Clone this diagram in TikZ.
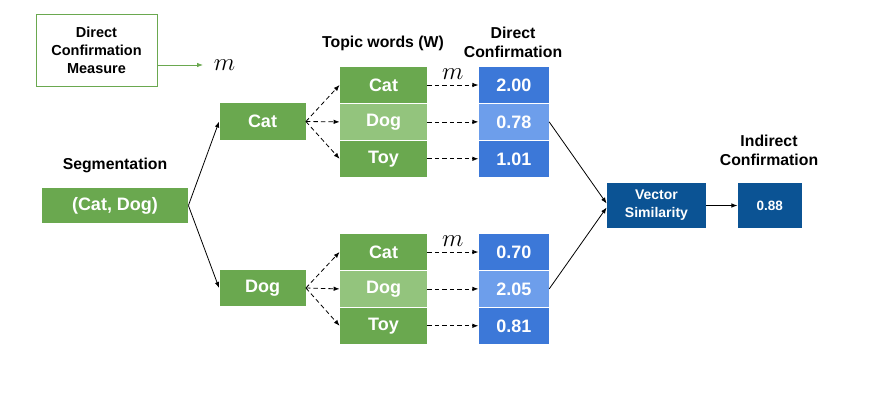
\documentclass[tikz,border=0pt]{standalone}
\usepackage{fontspec}
\setmainfont{Liberation Sans}
\usetikzlibrary{arrows.meta,positioning}
\definecolor{boxgreen}{HTML}{6AA84F}
\definecolor{lightgreen}{HTML}{93C47D}
\definecolor{boxblue}{HTML}{3C78D8}
\definecolor{lightblue}{HTML}{6D9EEB}
\definecolor{darkblue}{HTML}{0B5394}
\tikzset{
  >={Latex[length=6pt,width=4.5pt]},
  box/.style={inner sep=0pt, align=center, text=white, font=\bfseries\fontsize{18}{21}\selectfont},
  seg/.style={box, fill=boxgreen, minimum width=146pt, minimum height=35pt},
  word/.style={box, fill=boxgreen, minimum width=87pt, minimum height=36.5pt},
  wordlt/.style={word, fill=lightgreen},
  val/.style={box, fill=boxblue, minimum width=70pt, minimum height=36.5pt},
  vallt/.style={val, fill=lightblue},
  sim/.style={box, fill=darkblue, minimum height=45pt, font=\bfseries\fontsize{14}{18}\selectfont},
  measure/.style={draw=boxgreen, line width=1pt, align=center, minimum width=121pt, minimum height=72pt, font=\bfseries\fontsize{14.5}{18}\selectfont},
  title/.style={align=center, font=\bfseries\fontsize{15.8}{19}\selectfont},
  mlabel/.style={inner sep=0.5pt, font=\fontsize{24}{24}\selectfont},
  dasharrow/.style={->, dash pattern=on 4.5pt off 3pt},
}
\begin{document}
\begin{tikzpicture}[x=1pt, y=-1pt, node distance=-0.4pt, line width=0.8pt]
  \useasboundingbox (0,0) rectangle (887,405);

  \node[measure] (dcm) at (96.5,50) {Direct\\Confirmation\\Measure};
  \node[mlabel, anchor=west] (mdc) at (213,65) {$m$};

  \node[title] (segtitle) at (115,165) {Segmentation};
  \node[seg] (seg) at (115,205.5) {(Cat, Dog)};
  \node[word, minimum width=86pt] (cat) at (262.5,121.5) {Cat};
  \node[word, minimum width=86pt] (dog) at (262.5,288) {Dog};

  \node[title] (twtitle) at (383,43) {Topic words (W)};
  \node[word] (wa1) at (383.5,85) {Cat};
  \node[wordlt, below=of wa1] (wa2) {Dog};
  \node[word, below=of wa2] (wa3) {Toy};
  \node[word] (wb1) at (383.5,252) {Cat};
  \node[wordlt, below=of wb1] (wb2) {Dog};
  \node[word, below=of wb2] (wb3) {Toy};

  \node[title] (dctitle) at (513,42.5) {Direct\\Confirmation};
  \node[val, right=51pt of wa1] (va1) {2.00};
  \node[vallt, right=51pt of wa2] (va2) {0.78};
  \node[val, right=51pt of wa3] (va3) {1.01};
  \node[val, right=51pt of wb1] (vb1) {0.70};
  \node[vallt, right=51pt of wb2] (vb2) {2.05};
  \node[val, right=51pt of wb3] (vb3) {0.81};

  \node[sim, minimum width=99pt] (vs) at (656.5,205.5) {Vector\\Similarity};
  \node[sim, minimum width=64pt, font=\bfseries\fontsize{13.5}{16}\selectfont, right=31pt of vs] (ind) {0.88};
  \node[title] (ictitle) at (769,150.5) {Indirect\\Confirmation};

  \draw[->, boxgreen] ([yshift=-15pt]dcm.east) -- ([xshift=-10pt]mdc.west);
  \draw[->] (seg.east) -- (cat.west);
  \draw[->] (seg.east) -- (dog.west);
  \draw[dasharrow] (cat.east) -- (wa1.west);
  \draw[dasharrow] (cat.east) -- (wa2.west);
  \draw[dasharrow] (cat.east) -- (wa3.west);
  \draw[dasharrow] (dog.east) -- (wb1.west);
  \draw[dasharrow] (dog.east) -- (wb2.west);
  \draw[dasharrow] (dog.east) -- (wb3.west);
  \draw[dasharrow] (wa1) -- node[mlabel, above=5pt] {$m$} (va1);
  \draw[dasharrow] (wa2) -- (va2);
  \draw[dasharrow] (wa3) -- (va3);
  \draw[dasharrow] (wb1) -- node[mlabel, above=5pt] {$m$} (vb1);
  \draw[dasharrow] (wb2) -- (vb2);
  \draw[dasharrow] (wb3) -- (vb3);
  \draw[->] (va2.east) -- ([yshift=2pt]vs.west);
  \draw[->] (vb2.east) -- ([yshift=-2pt]vs.west);
  \draw[->] (vs) -- (ind);
\end{tikzpicture}
\end{document}
